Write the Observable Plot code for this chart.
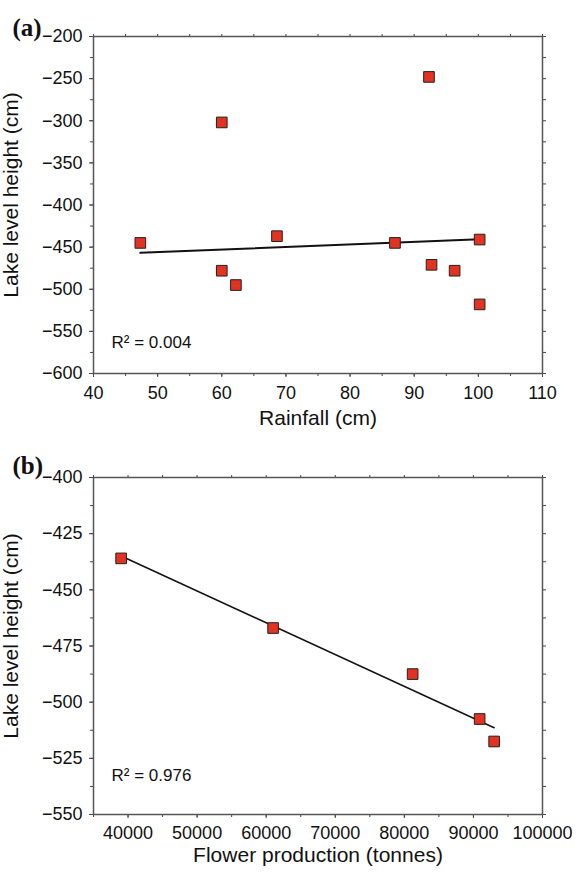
<!DOCTYPE html>
<html><head><meta charset="utf-8">
<script src="https://cdn.jsdelivr.net/npm/d3@7"></script>
<script src="https://cdn.jsdelivr.net/npm/@observablehq/plot@0.6"></script>
<style>
body{margin:0;background:#fff;}
#wrap{position:relative;width:578px;height:874px;overflow:hidden;}
.panel{position:absolute;left:0;}
</style></head><body>
<div id="wrap">
  <div class="panel" id="pa" style="top:0px"></div>
  <div class="panel" id="pb" style="top:440px"></div>
</div>
<script>
// ---- Panel (a) data ----
const rainfall = [47.3, 60.0, 60.0, 62.2, 68.6, 87.0, 92.3, 92.7, 96.3, 100.2, 100.2];
const lakeA    = [-445, -478, -302, -495, -437, -445, -248, -471, -478, -441, -518];
const fitRainfall = [47.3, 100.2];
const fitLakeA    = [-456.8, -440.6];
const r2A = "R\u00B2 = 0.004";
const xTicksA = [40, 50, 60, 70, 80, 90, 100, 110];
const yTicksA = [-600, -550, -500, -450, -400, -350, -300, -250, -200];

// ---- Panel (b) data ----
const flower = [39000, 61000, 81200, 90900, 93000];
const lakeB  = [-436, -467, -487.5, -507.5, -517.5];
const r2B = "R\u00B2 = 0.976";
const xTicksB = [40000, 50000, 60000, 70000, 80000, 90000, 100000];
const yTicksB = [-550, -525, -500, -475, -450, -425, -400];

const fmt = d => (d < 0 ? "\u2212" + Math.abs(d) : String(d));
const SANS = "'Liberation Sans', Arial, sans-serif";
const SERIF = "'Liberation Serif', 'Times New Roman', serif";
const AX = "#444";

function panel(o) {
  const data = o.xs.map((x, i) => ({x, y: o.ys[i]}));
  const none = () => "";
  return Plot.plot({
    width: 578, height: o.height,
    marginLeft: 93, marginRight: 36, marginTop: o.mt, marginBottom: o.mb,
    style: {fontFamily: SANS, fontSize: "18px", color: "#111", background: "#fff", overflow: "visible"},
    x: {domain: o.xDomain, nice: false},
    y: {domain: o.yDomain, nice: false},
    marks: [
      // minor ticks
      Plot.axisX(o.xMinor, {anchor: "bottom", tickSize: 3, tickFormat: none, label: null, stroke: AX}),
      Plot.axisX(o.xMinor, {anchor: "top", tickSize: 3, tickFormat: none, label: null, stroke: AX}),
      Plot.axisY(o.yMinor, {anchor: "left", tickSize: 3, tickFormat: none, label: null, stroke: AX}),
      Plot.axisY(o.yMinor, {anchor: "right", tickSize: 3, tickFormat: none, label: null, stroke: AX}),
      // major ticks with labels
      Plot.axisX(o.xTicks, {anchor: "bottom", tickSize: 4, tickPadding: o.xPad, tickFormat: fmt, label: null, fontSize: 18, stroke: AX}),
      Plot.axisY(o.yTicks, {anchor: "left", tickSize: 4, tickPadding: 7, tickFormat: fmt, label: null, fontSize: 18, stroke: AX}),
      Plot.frame({stroke: "#555", strokeWidth: 1.5}),
      o.fit,
      Plot.dot(data, {x: "x", y: "y", symbol: "square", r: 6, fill: "#e23222", stroke: "#222", strokeWidth: 1}),
      Plot.text([o.r2], {frameAnchor: "bottom-left", dx: 18, dy: o.r2dy, textAnchor: "start", fontSize: 17, fill: "#111"}),
      Plot.text([o.xLabel], {frameAnchor: "bottom", dy: o.xLabDy, textAnchor: "middle", fontSize: 21, fill: "#111"}),
      Plot.text(["Lake level height (cm)"], {frameAnchor: "left", dx: -82, dy: -10, rotate: -90, textAnchor: "middle", fontSize: 21, fill: "#111"}),
      Plot.text([o.tag], {frameAnchor: "top-left", dx: -81, dy: o.tagDy, textAnchor: "start", fontSize: 25, fontWeight: "bold", fontFamily: SERIF, fill: "#111"})
    ]
  });
}

const fitA = fitRainfall.map((x, i) => ({x, y: fitLakeA[i]}));
const plotA = panel({
  height: 440, mt: 36, mb: 67,
  xs: rainfall, ys: lakeA,
  xDomain: [40, 110], yDomain: [-600, -200],
  xTicks: xTicksA, yTicks: yTicksA,
  xMinor: d3.range(40, 110.01, 5), yMinor: d3.range(-600, -199.9, 25),
  xPad: 9,
  fit: Plot.line(fitA, {x: "x", y: "y", stroke: "#111", strokeWidth: 2}),
  r2: r2A, r2dy: -26,
  xLabel: "Rainfall (cm)", xLabDy: 51,
  tag: "(a)", tagDy: -18
});

const plotB = panel({
  height: 434, mt: 37, mb: 60,
  xs: flower, ys: lakeB,
  xDomain: [35000, 100000], yDomain: [-550, -400],
  xTicks: xTicksB, yTicks: yTicksB,
  xMinor: d3.range(35000, 100001, 5000), yMinor: d3.range(-550, -399.9, 12.5),
  xPad: 8,
  fit: Plot.linearRegressionY(flower.map((x, i) => ({x, y: lakeB[i]})), {x: "x", y: "y", stroke: "#111", strokeWidth: 1.5, ci: 0}),
  r2: r2B, r2dy: -34,
  xLabel: "Flower production (tonnes)", xLabDy: 47,
  tag: "(b)", tagDy: -21
});

document.getElementById("pa").appendChild(plotA);
document.getElementById("pb").appendChild(plotB);
</script>
</body></html>
